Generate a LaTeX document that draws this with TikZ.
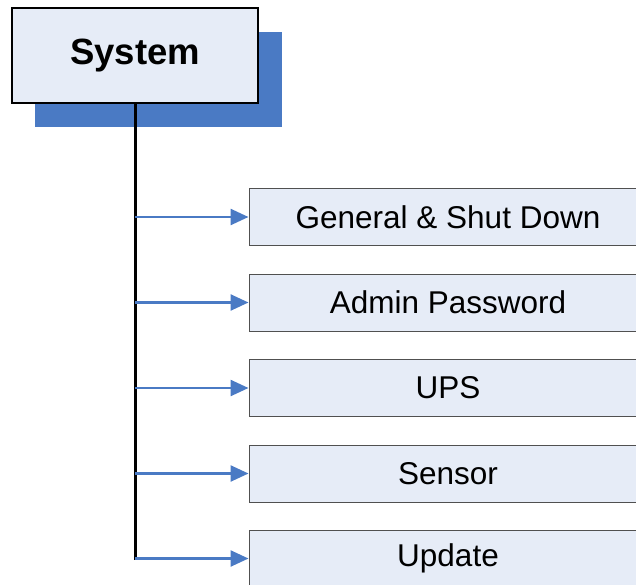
\documentclass[tikz,border=0pt]{standalone}
\usepackage{fontspec}
\setmainfont{Liberation Sans}
\usetikzlibrary{arrows.meta}
\definecolor{shadowblue}{HTML}{4A7AC4}
\definecolor{boxfill}{HTML}{E6ECF7}
\definecolor{arrowblue}{HTML}{4A7AC4}
\definecolor{boxedge}{HTML}{505050}
\tikzset{
  sysbox/.style={draw=black, line width=1.2pt, fill=boxfill, minimum width=246pt, minimum height=95pt, inner sep=0pt, font=\fontsize{36.5}{40}\selectfont\bfseries},
  shadowbox/.style={fill=shadowblue, minimum width=247pt, minimum height=95pt, inner sep=0pt},
  childbox/.style={draw=boxedge, line width=1pt, fill=boxfill, minimum width=398pt, minimum height=57pt, inner sep=0pt, font=\fontsize{31.5}{36}\selectfont},
  trunk/.style={draw=black, line width=3pt},
  branch/.style={draw=arrowblue, line width=2.5pt, -{Triangle[length=18pt,width=16pt]}}
}
\begin{document}
\begin{tikzpicture}[x=1pt,y=-1pt]
\useasboundingbox (0,0) rectangle (636,585);
\node[shadowbox] (shadow) at (158.5,79.5) {};
\node[sysbox] (sys) at (135,55.5) {System};
\node[childbox] (gen) at (448,217) {General \& Shut Down};
\node[childbox] (adm) at (448,302.5) {Admin Password};
\node[childbox] (ups) at (448,388) {UPS};
\node[childbox] (sen) at (448,473.5) {Sensor};
\node[childbox] (upd) at (448,558.5) {Update};
\coordinate (bot) at (sys.south |- upd.west);
\draw[trunk] (sys.south) -- ([yshift=-1pt]bot);
\foreach \n in {gen,adm,ups,sen,upd}{
  \draw[branch] (sys.south |- \n.west) -- (\n.west);
}
\end{tikzpicture}
\end{document}
